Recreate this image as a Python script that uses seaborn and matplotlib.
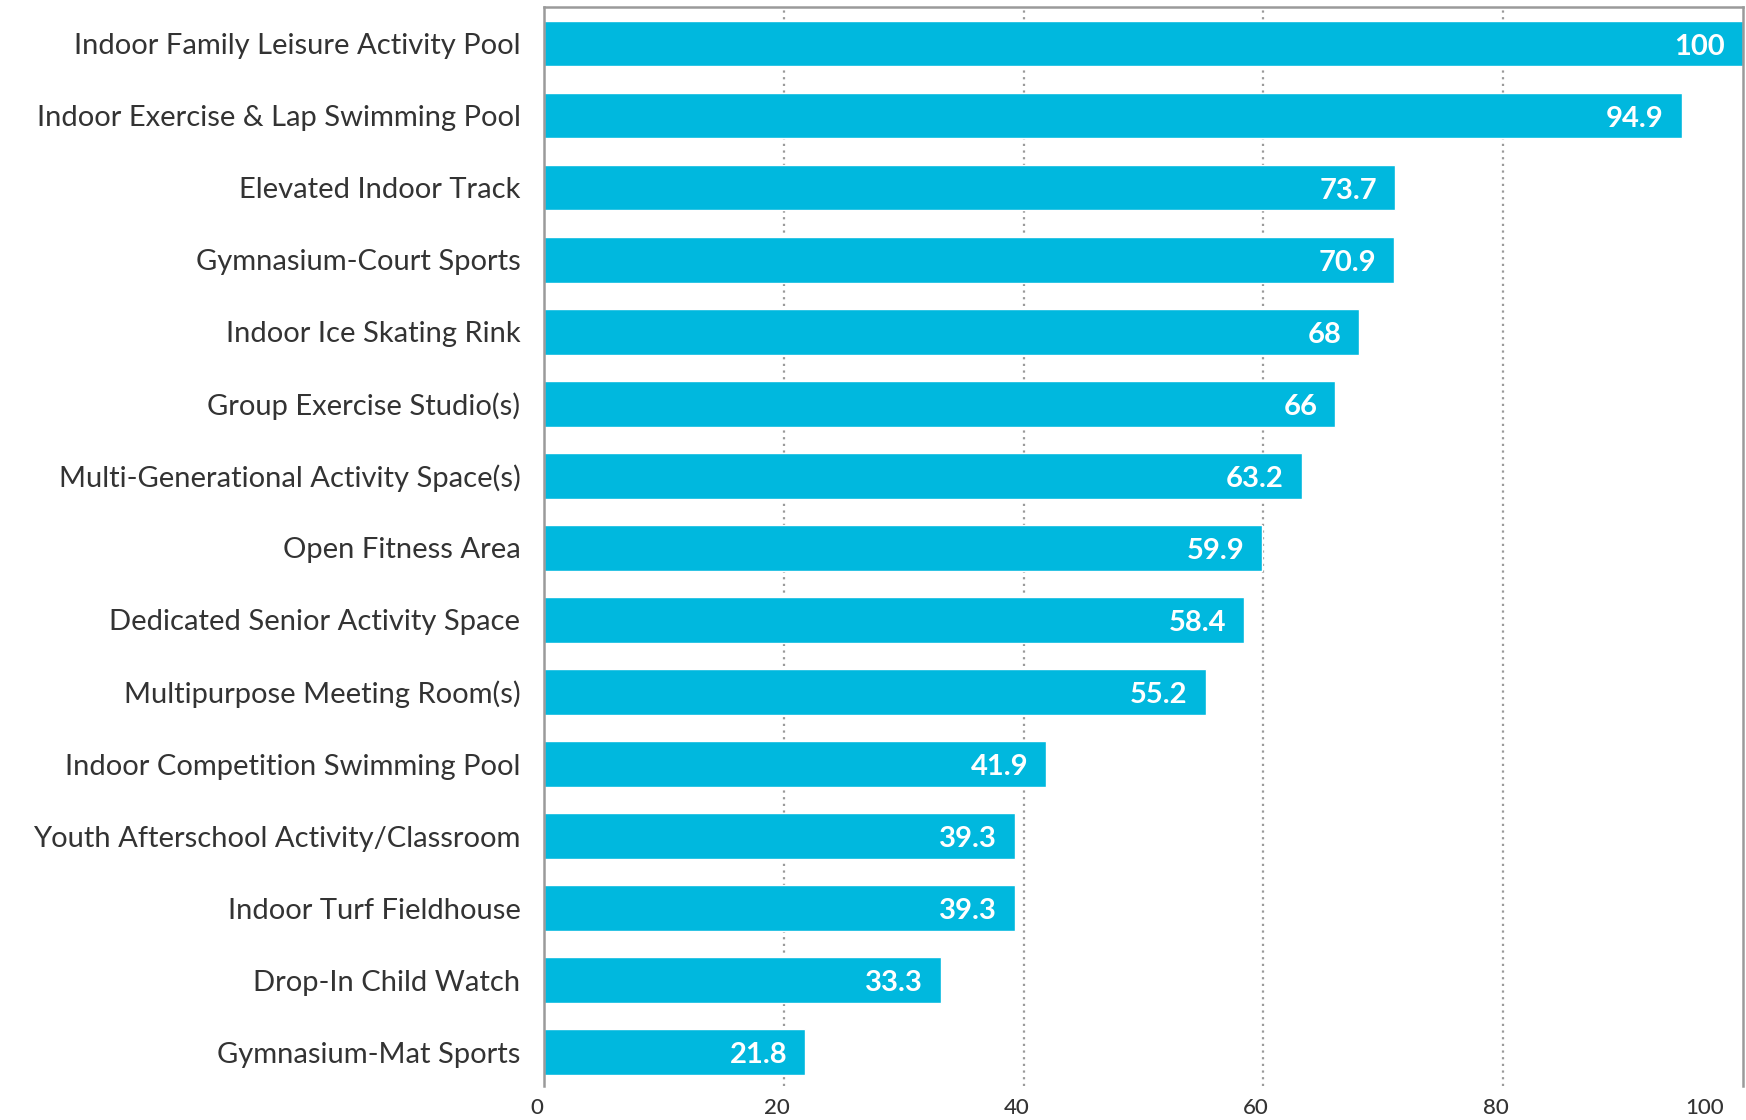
import matplotlib
matplotlib.use('Agg')
import matplotlib.pyplot as plt
import seaborn as sns
import pandas as pd

# %%
amenities = [
    'Indoor Family Leisure Activity Pool',
    'Indoor Exercise & Lap Swimming Pool',
    'Elevated Indoor Track',
    'Gymnasium-Court Sports',
    'Indoor Ice Skating Rink',
    'Group Exercise Studio(s)',
    'Multi-Generational Activity Space(s)',
    'Open Fitness Area',
    'Dedicated Senior Activity Space',
    'Multipurpose Meeting Room(s)',
    'Indoor Competition Swimming Pool',
    'Youth Afterschool Activity/Classroom',
    'Indoor Turf Fieldhouse',
    'Drop-In Child Watch',
    'Gymnasium-Mat Sports',
]
# comprimento das barras como aparece no grafico (a barra de 73.7 vai ate ~71)
scores = [100, 94.9, 71.0, 70.9, 68, 66, 63.2, 59.9, 58.4, 55.2, 41.9, 39.3, 39.3, 33.1, 21.8]
score_labels = ['100', '94.9', '73.7', '70.9', '68', '66', '63.2', '59.9', '58.4',
                '55.2', '41.9', '39.3', '39.3', '33.3', '21.8']
x_ticks = [0, 20, 40, 60, 80, 100]

df = pd.DataFrame({'amenity': amenities, 'score': scores})

# %%
sns.set_style('white')
plt.rcParams['font.family'] = ['Lato', 'DejaVu Sans']

bar_color = '#00B8DE'
text_color = '#333333'
line_color = '#9a9a9a'

fig = plt.figure(figsize=(17.46, 11.2), dpi=100)
ax = fig.add_axes([544 / 1746, 34 / 1120, 1199 / 1746, 1079 / 1120])

# grade pontilhada atras das barras
for t in x_ticks[1:-1]:
    ax.axvline(t, color=line_color, linestyle=(0, (1, 2)), linewidth=1.6, zorder=0)

sns.barplot(data=df, x='score', y='amenity', color=bar_color, saturation=1,
            width=0.63, ax=ax, zorder=2)

# valores dentro das barras
for i, (v, lab) in enumerate(zip(scores, score_labels)):
    ax.text(v - 1.5, i + 0.045, lab, ha='right', va='center', color='white',
            fontsize=21, fontweight='bold', zorder=3)

ax.set_xlim(0, 100)
ax.set_ylim(14.47, -0.51)
ax.set_xlabel('')
ax.set_ylabel('')
ax.set_xticks([])

# rotulos do eixo x abaixo do grafico (um pouco a esquerda da linha)
for t in x_ticks:
    if t == 100:
        ax.text(98.4, -22 / 1079, str(t), transform=ax.get_xaxis_transform(),
                ha='right', va='center', fontsize=16, color=text_color, fontweight='medium')
    else:
        ax.text(t - 0.6, -22 / 1079, str(t), transform=ax.get_xaxis_transform(),
                ha='center', va='center', fontsize=16, color=text_color, fontweight='medium')

ax.tick_params(axis='y', length=0, pad=17, labelsize=21, labelcolor=text_color)

for side in ['left', 'top', 'right']:
    ax.spines[side].set_color(line_color)
    ax.spines[side].set_linewidth(1.8)
ax.spines['bottom'].set_visible(False)

fig.savefig('out.png', dpi=100)
